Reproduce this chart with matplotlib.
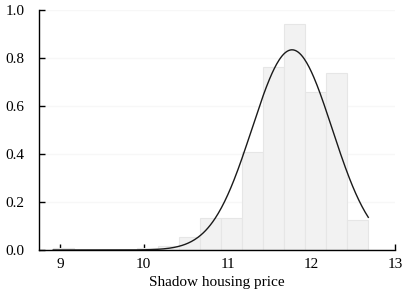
import matplotlib
import matplotlib.pyplot as plt
import numpy as np

matplotlib.use("Agg")

plt.rcParams["font.family"] = ["Liberation Serif", "DejaVu Serif"]

# histogram bins (left edges) and density heights
bin_width = 0.2507
bin_left = [8.92 + i * bin_width for i in range(15)]
density = [0.008, 0.0, 0.0, 0.0, 0.007, 0.015, 0.055, 0.133, 0.133,
           0.408, 0.761, 0.944, 0.658, 0.740, 0.125]

# fitted normal curve
mu = 11.77
sigma = 0.478
x_min, x_max = 8.92, 12.68

fig = plt.figure(figsize=(4.04, 2.98), dpi=100)
ax = fig.add_axes([0.0965, 0.161, 0.8815, 0.805])

ax.bar(bin_left, density, width=bin_width, align="edge",
       color="#f2f2f2", edgecolor="#e6e6e6", linewidth=0.8, zorder=2)

xs = np.linspace(x_min, x_max, 400)
pdf = np.exp(-(xs - mu) ** 2 / (2 * sigma ** 2)) / (sigma * np.sqrt(2 * np.pi))
ax.plot(xs, pdf, color="#1a1a1a", linewidth=1.0, zorder=3)

ax.set_xlim(8.75, 13)
ax.set_ylim(0, 1.0)
ax.set_xticks([9, 10, 11, 12, 13])
ax.set_yticks([0.0, 0.2, 0.4, 0.6, 0.8, 1.0])
ax.set_yticklabels(["0.0", "0.2", "0.4", "0.6", "0.8", "1.0"])
ax.yaxis.grid(True, color="#f7f7f7", linewidth=1.0, zorder=0)
ax.set_axisbelow(True)

for s in ["top", "right"]:
    ax.spines[s].set_visible(False)
for s in ["left", "bottom"]:
    ax.spines[s].set_linewidth(1.0)
    ax.spines[s].set_color("black")

ax.tick_params(direction="in", length=4, width=1.0, labelsize=11)
ax.tick_params(axis="x", pad=6)
ax.tick_params(axis="y", pad=10.5)
ax.set_xlabel("Shadow housing price", fontsize=11, labelpad=3)

fig.savefig("out.png", dpi=100)
